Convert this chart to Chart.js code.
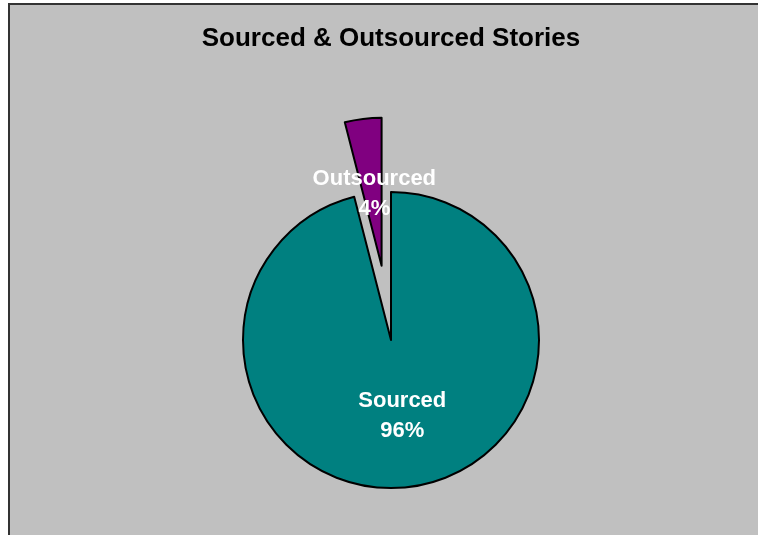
<!DOCTYPE html>
<html>
<head>
<meta charset="utf-8">
<script src="https://cdn.jsdelivr.net/npm/chart.js@4/dist/chart.umd.min.js"></script>
<style>
  html, body { margin: 0; padding: 0; background: #fff; overflow: hidden; }
  #frame { position: absolute; left: 8px; top: 3px; width: 800px; height: 600px;
           background: #c0c0c0; border-left: 2px solid #333; border-top: 2px solid #333; }
  #pieChart { position: absolute; left: 0; top: 0; }
</style>
</head>
<body>
<div id="frame"></div>
<canvas id="pieChart" width="758" height="535"></canvas>
<script>
// data
const labels = ['Sourced', 'Outsourced'];
const shares = [96, 4];
const sliceColors = ['#008080', '#800080'];
const explode = [0, 75];

// Excel style exploded slice: move the whole slice out, keep the radius
class ExplodedArc extends Chart.ArcElement {
  static id = 'explodedArc';
  draw(ctx) {
    const o = this.options;
    const mid = (this.startAngle + this.endAngle) / 2;
    const d = o.offset || 0;
    const cx = this.x + Math.cos(mid) * d,
          cy = this.y + Math.sin(mid) * d;
    ctx.save();
    ctx.beginPath();
    ctx.moveTo(cx, cy);
    ctx.arc(cx, cy, this.outerRadius, this.startAngle, this.endAngle);
    ctx.closePath();
    ctx.fillStyle = o.backgroundColor;
    ctx.fill();
    ctx.lineWidth = o.borderWidth;
    ctx.strokeStyle = o.borderColor;
    ctx.lineJoin = 'round';
    ctx.stroke();
    ctx.restore();
  }
}
Chart.register(ExplodedArc);
Chart.defaults.datasets.pie.dataElementType = 'explodedArc';

const total = shares.reduce((a, b) => a + b, 0);

const sliceLabels = {
  id: 'sliceLabels',
  afterDatasetsDraw(chart) {
    const meta = chart.getDatasetMeta(0);
    const ctx = chart.ctx;
    ctx.save();
    ctx.font = 'bold 22px "Liberation Sans", Arial, sans-serif';
    ctx.fillStyle = '#fff';
    ctx.textAlign = 'center';
    ctx.textBaseline = 'middle';
    meta.data.forEach((arc, i) => {
      const mid = (arc.startAngle + arc.endAngle) / 2;
      const r = explode[i] + arc.outerRadius * 0.5;
      const x = arc.x + Math.cos(mid) * r + 2,
            y = arc.y + Math.sin(mid) * r + 2;
      ctx.fillText(labels[i], x, y - 15);
      ctx.fillText(Math.round(shares[i] / total * 100) + '%', x, y + 15);
    });
    ctx.restore();
  }
};

let ctx = document.getElementById('pieChart').getContext('2d');
let myChart = new Chart(ctx, {
  type: 'pie',
  data: {
    labels: labels,
    datasets: [{
      data: shares,
      backgroundColor: sliceColors,
      borderColor: '#000',
      borderWidth: 2,
      offset: explode
    }]
  },
  options: {
    responsive: false,
    animation: false,
    radius: 148,
    layout: { padding: { left: 24, right: 0, top: 0, bottom: 0 } },
    plugins: {
      legend: { display: false },
      tooltip: { enabled: false },
      title: {
        display: true,
        text: 'Sourced & Outsourced Stories',
        color: '#000',
        font: { family: '"Liberation Sans", Arial, sans-serif', size: 26, weight: 'bold' },
        padding: { top: 23, bottom: 91 }
      }
    }
  },
  plugins: [sliceLabels]
});
</script>
</body>
</html>
